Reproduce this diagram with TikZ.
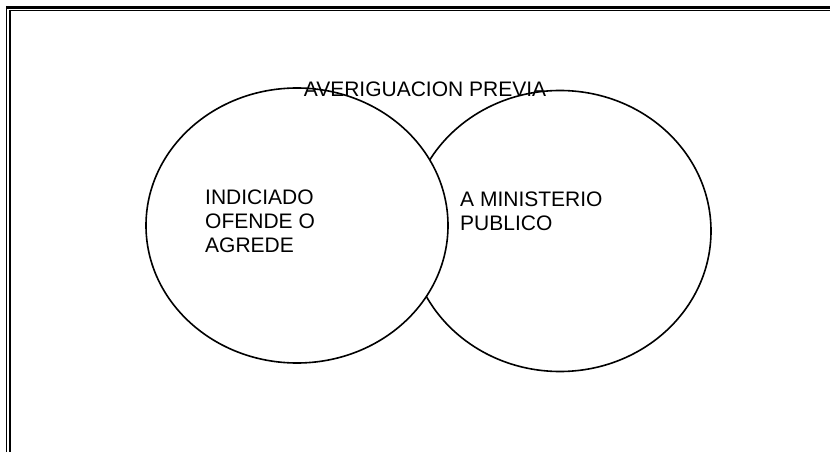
\documentclass[tikz,border=0pt]{standalone}
\usepackage{fontspec}
\setmainfont{Liberation Sans}
\usetikzlibrary{shapes.geometric}
\tikzset{
	circulo/.style={ellipse,draw=black,line width=1.6pt,fill=white,inner sep=0pt},
	texto/.style={align=left,anchor=north west,inner sep=0pt,font=\fontsize{21}{24}\selectfont}
}

\begin{document}
\begin{tikzpicture}[x=1pt,y=-1pt]
\useasboundingbox (0,0) rectangle (830,452);
% marco de pagina
\draw[line width=3pt] (6,7.5) -- (830,7.5);
\draw[line width=1pt] (9,10.5) -- (830,10.5);
\draw[line width=1pt] (6.5,6) -- (6.5,452);
\draw[line width=2pt] (10,10) -- (10,452);
% circulos
\node[circulo,minimum width=302pt,minimum height=281pt] (ministerio) at (560,231) {};
\node[circulo,minimum width=302pt,minimum height=275pt] (indiciado) at (297,225.5) {};
% textos
\node[texto,anchor=base] (titulo) at (425,96) {AVERIGUACION PREVIA};
\node[texto] (ofende) at (205,190) {INDICIADO\\OFENDE O\\AGREDE};
\node[texto] (publico) at (460,192) {A MINISTERIO\\PUBLICO};
\end{tikzpicture}
\end{document}
